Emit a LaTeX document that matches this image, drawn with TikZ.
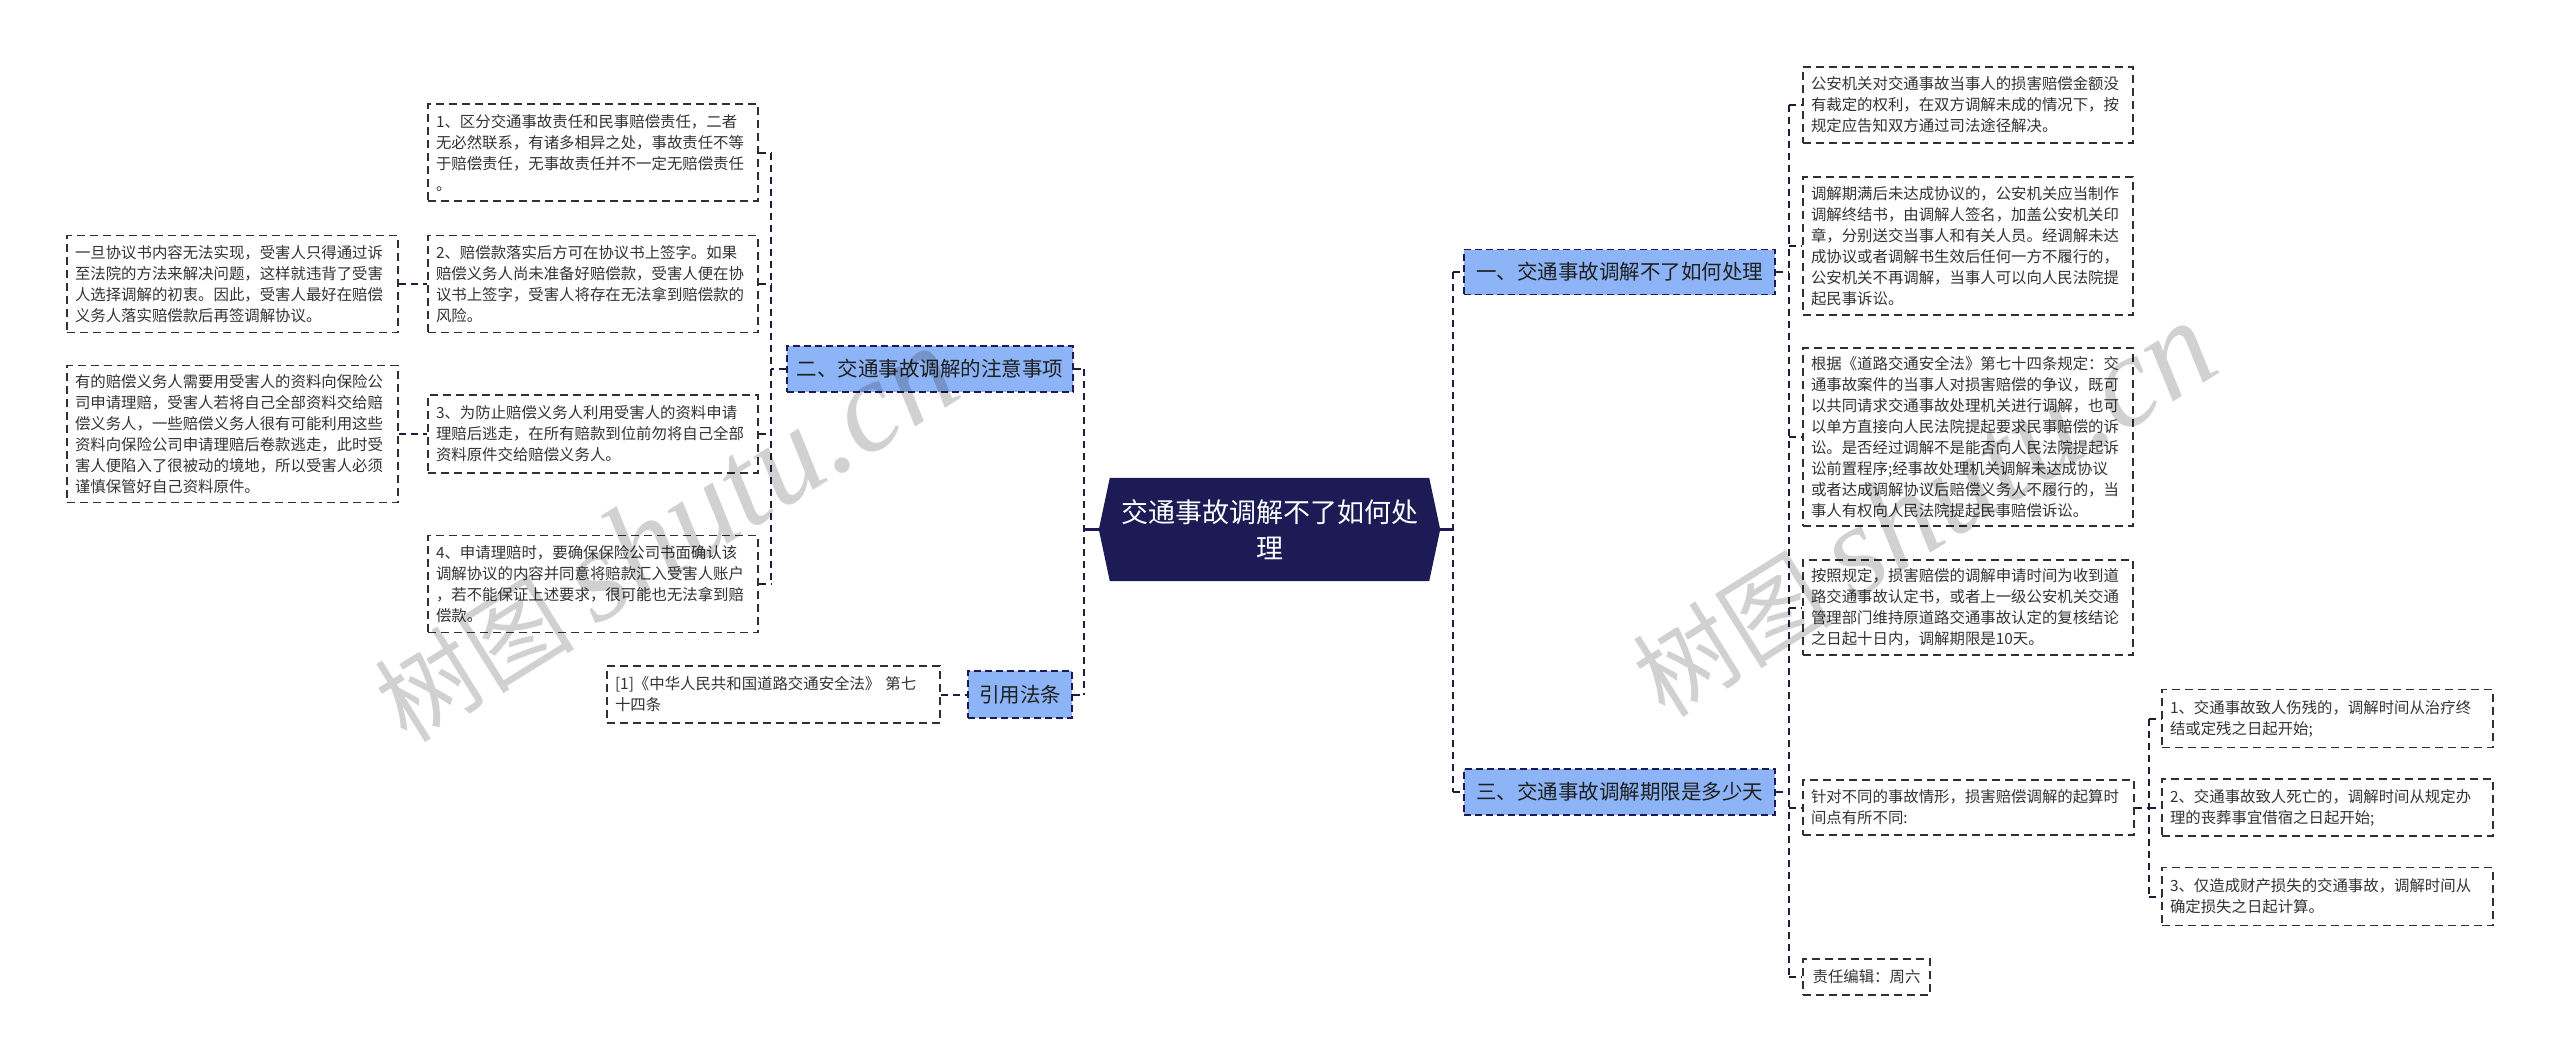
\documentclass[tikz,border=0pt]{standalone}
\usepackage{fontspec}
\setmainfont{Noto Sans CJK SC}
\newfontfamily\wmlatin{Liberation Serif}
\usetikzlibrary{backgrounds}
\definecolor{navy}{HTML}{1C1B55}
\definecolor{hblue}{HTML}{8DB4F6}
\definecolor{leaftext}{HTML}{333333}
\definecolor{leafline}{HTML}{303030}
\definecolor{lineclr}{HTML}{1E1E3C}
\tikzset{
  leaf/.style={draw=leafline, line width=1.5pt, dash pattern=on 8pt off 5pt,
    text=leaftext, font=\fontsize{15.4}{21}\selectfont, align=left,
    inner xsep=8pt, inner ysep=0pt, text width=#1},
  leaf/.default=314pt,
  head/.style={draw=navy, fill=hblue, line width=1.5pt, dash pattern=on 7pt off 4pt,
    text=black!88, font=\fontsize{20.5}{24}\selectfont, inner xsep=0pt, inner ysep=0pt},
  root/.style={text=white, font=\fontsize{27}{36}\selectfont, align=center,
    minimum width=341pt, minimum height=103pt, inner sep=0pt},
  conn/.style={draw=lineclr, line width=2pt, dash pattern=on 7pt off 5pt},
  rootlink/.style={draw=navy, line width=2.5pt},
  wmark/.style={text=black, text opacity=0.18, inner sep=0pt, rotate=32,
    font=\fontsize{100}{100}\selectfont}
}
\begin{document}
\begin{tikzpicture}[x=1pt, y=-1pt]
\useasboundingbox (0,0) rectangle (2560,1063);

% trunk x positions
\coordinate (tl) at (1084,0);
\coordinate (tr) at (1453,0);
\coordinate (t2) at (771,0);
\coordinate (t1) at (1789,0);
\coordinate (tj) at (2149,0);

% root
\node[root] (root) at (1269.5,529.5) {交通事故调解不了如何处\\理};

% left side
\node[head, minimum width=286pt, minimum height=46pt] (h2) at (930,369) {二、交通事故调解的注意事项};
\node[head, minimum width=104pt, minimum height=47pt] (href) at (1020,694.5) {引用法条};

\node[leaf, minimum height=97pt] (b1) at (593,152.5) {1、区分交通事故责任和民事赔偿责任，二者\\无必然联系，有诸多相异之处，事故责任不等\\于赔偿责任，无事故责任并不一定无赔偿责任\\。};
\node[leaf, minimum height=97pt] (b2) at (593,284) {2、赔偿款落实后方可在协议书上签字。如果\\赔偿义务人尚未准备好赔偿款，受害人便在协\\议书上签字，受害人将存在无法拿到赔偿款的\\风险。};
\node[leaf, minimum height=78pt] (b3) at (593,434) {3、为防止赔偿义务人利用受害人的资料申请\\理赔后逃走，在所有赔款到位前勿将自己全部\\资料原件交给赔偿义务人。};
\node[leaf, minimum height=97pt] (b4) at (593,584) {4、申请理赔时，要确保保险公司书面确认该\\调解协议的内容并同意将赔款汇入受害人账户\\，若不能保证上述要求，很可能也无法拿到赔\\偿款。};

\node[leaf=315pt, minimum height=97pt] (b2c) at (232.5,284) {一旦协议书内容无法实现，受害人只得通过诉\\至法院的方法来解决问题，这样就违背了受害\\人选择调解的初衷。因此，受害人最好在赔偿\\义务人落实赔偿款后再签调解协议。};
\node[leaf=315pt, minimum height=137pt] (b3c) at (232.5,434) {有的赔偿义务人需要用受害人的资料向保险公\\司申请理赔，受害人若将自己全部资料交给赔\\偿义务人，一些赔偿义务人很有可能利用这些\\资料向保险公司申请理赔后卷款逃走，此时受\\害人便陷入了很被动的境地，所以受害人必须\\谨慎保管好自己资料原件。};

\node[leaf=317pt, minimum height=57pt] (refc) at (773.5,694.5) {[1]《中华人民共和国道路交通安全法》 第七\\十四条};

% right side
\node[head, minimum width=311pt, minimum height=45pt] (h1) at (1619.5,272) {一、交通事故调解不了如何处理};
\node[head, minimum width=311pt, minimum height=46pt] (h3) at (1619.5,792) {三、交通事故调解期限是多少天};

\node[leaf, minimum height=76pt] (rA) at (1968,105) {公安机关对交通事故当事人的损害赔偿金额没\\有裁定的权利，在双方调解未成的情况下，按\\规定应告知双方通过司法途径解决。};
\node[leaf, minimum height=138pt] (rB) at (1968,246) {调解期满后未达成协议的，公安机关应当制作\\调解终结书，由调解人签名，加盖公安机关印\\章，分别送交当事人和有关人员。经调解未达\\成协议或者调解书生效后任何一方不履行的，\\公安机关不再调解，当事人可以向人民法院提\\起民事诉讼。};
\node[leaf, minimum height=178pt] (rC) at (1968,437) {根据《道路交通安全法》第七十四条规定：交\\通事故案件的当事人对损害赔偿的争议，既可\\以共同请求交通事故处理机关进行调解，也可\\以单方直接向人民法院提起要求民事赔偿的诉\\讼。是否经过调解不是能否向人民法院提起诉\\讼前置程序;经事故处理机关调解未达成协议\\或者达成调解协议后赔偿义务人不履行的，当\\事人有权向人民法院提起民事赔偿诉讼。};
\node[leaf, minimum height=95pt] (rD) at (1968,607.5) {按照规定，损害赔偿的调解申请时间为收到道\\路交通事故认定书，或者上一级公安机关交通\\管理部门维持原道路交通事故认定的复核结论\\之日起十日内，调解期限是10天。};

\node[leaf=315pt, minimum height=55pt] (rJ) at (1968.5,807.5) {针对不同的事故情形，损害赔偿调解的起算时\\间点有所不同:};
\node[draw=leafline, line width=1.5pt, dash pattern=on 8pt off 5pt, text=leaftext,
  font=\fontsize{15.4}{21}\selectfont, inner xsep=8pt, inner ysep=0pt,
  minimum width=127pt, minimum height=36pt] (rZ) at (1866.5,977) {责任编辑：周六};

\node[leaf=315pt, minimum height=58pt] (c1) at (2327.5,718.5) {1、交通事故致人伤残的，调解时间从治疗终\\结或定残之日起开始;};
\node[leaf=315pt, minimum height=57pt] (c2) at (2327.5,807.5) {2、交通事故致人死亡的，调解时间从规定办\\理的丧葬事宜借宿之日起开始;};
\node[leaf=315pt, minimum height=58pt] (c3) at (2327.5,896.5) {3、仅造成财产损失的交通事故，调解时间从\\确定损失之日起计算。};

% connectors, left
\draw[rootlink] (root.west) -- (root.west -| tl);
\draw[conn] (tl |- h2.east) -- (tl |- href.east);
\draw[conn] (h2.east) -- (tl |- h2.east);
\draw[conn] (href.east) -- (tl |- href.east);
\draw[conn] (h2.west) -- (t2 |- h2.west);
\draw[conn] (t2 |- b1.east) -- (t2 |- b4.east);
\foreach \n in {b1,b2,b3,b4} \draw[conn] (\n.east) -- (t2 |- \n.east);
\draw[conn] (b2c.east) -- (b2.west);
\draw[conn] (b3c.east) -- (b3.west);
\draw[conn] (refc.east) -- (href.west);

% connectors, right
\draw[rootlink] (root.east) -- (root.east -| tr);
\draw[conn] (tr |- h1.west) -- (tr |- h3.west);
\draw[conn] (tr |- h1.west) -- (h1.west);
\draw[conn] (tr |- h3.west) -- (h3.west);
\draw[conn] (h1.east) -- (t1 |- h1.east);
\draw[conn] (t1 |- rA.west) -- (t1 |- rD.west);
\foreach \n in {rA,rB,rC,rD} \draw[conn] (t1 |- \n.west) -- (\n.west);
\draw[conn] (h3.east) -- (t1 |- h3.east);
\draw[conn] (t1 |- rD.west) -- (t1 |- rZ.west);
\draw[conn] (t1 |- rJ.west) -- (rJ.west);
\draw[conn] (t1 |- rZ.west) -- (rZ.west);
\draw[conn] (rJ.east) -- (tj |- rJ.east);
\draw[conn] (tj |- c1.west) -- (tj |- c3.west);
\foreach \n in {c1,c2,c3} \draw[conn] (tj |- \n.west) -- (\n.west);

% background and root shape
\begin{pgfonlayer}{background}
\fill[white] (0,0) rectangle (2560,1063);
\fill[navy] ([xshift=11pt]root.north west) -- ([xshift=-11pt]root.north east) -- (root.east)
  -- ([xshift=-11pt]root.south east) -- ([xshift=11pt]root.south west) -- (root.west) -- cycle;
\end{pgfonlayer}

% watermarks
\node[wmark] (wm1) at (665,535) {树图 {\wmlatin\itshape\fontsize{130}{130}\selectfont shutu.cn}};
\node[wmark] (wm2) at (1923,510) {树图 {\wmlatin\itshape\fontsize{130}{130}\selectfont shutu.cn}};
\end{tikzpicture}
\end{document}
